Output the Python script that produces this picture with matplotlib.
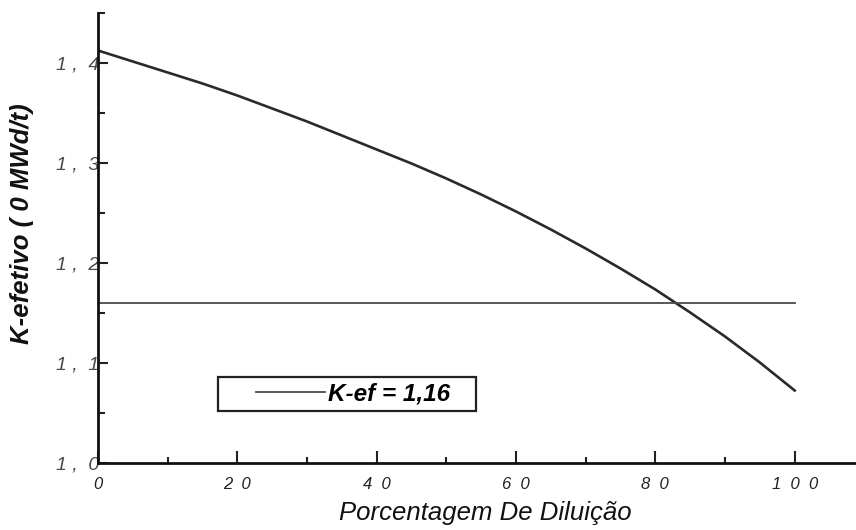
import matplotlib
matplotlib.use("Agg")
import matplotlib.pyplot as plt
from matplotlib.ticker import MultipleLocator
from matplotlib.legend_handler import HandlerLine2D

plt.rcParams['font.family'] = ['Liberation Sans', 'DejaVu Sans']

# Dilution percentage and effective multiplication factor
diluicao = [0, 5, 10, 15, 20, 25, 30, 35, 40, 45, 50,
            55, 60, 65, 70, 75, 80, 85, 90, 95, 100]
k_efetivo = [1.412, 1.401, 1.390, 1.379, 1.367, 1.354, 1.341, 1.327, 1.313, 1.299, 1.284,
             1.268, 1.251, 1.233, 1.214, 1.194, 1.173, 1.150, 1.126, 1.100, 1.072]

# Reference criticality level
k_ref = 1.16
k_ref_label = "K-ef = 1,16"

x_ticks = [0, 20, 40, 60, 80, 100]
x_tick_labels = ["0", "2  0", "4  0", "6  0", "8  0", "1  0  0"]
y_ticks = [1.0, 1.1, 1.2, 1.3, 1.4]
y_tick_labels = ["1 ,  0", "1 ,  1", "1 ,  2", "1 ,  3", "1 ,  4"]

fig = plt.figure(figsize=(8.56, 5.30), dpi=100)
ax = fig.add_axes([98 / 856, 1 - 462.5 / 530, 1 - 98 / 856, 450 / 530])

ax.plot(diluicao, k_efetivo, color='#2a2a2a', lw=1.9, solid_joinstyle='round')
ref_line, = ax.plot([diluicao[0], diluicao[-1]], [k_ref, k_ref], color='#4a4a4a', lw=1.3,
                    label=k_ref_label)

ax.set_xlim(0, 108.8)
ax.set_ylim(1.0, 1.45)

for side in ('top', 'right'):
    ax.spines[side].set_visible(False)
for side in ('left', 'bottom'):
    ax.spines[side].set_linewidth(2.0)
    ax.spines[side].set_color('#111111')

ax.set_xticks(x_ticks, x_tick_labels)
ax.set_yticks(y_ticks, y_tick_labels)
ax.xaxis.set_minor_locator(MultipleLocator(10))
ax.yaxis.set_minor_locator(MultipleLocator(0.05))

ax.tick_params(axis='x', which='major', direction='in', length=8.5, width=1.5,
               color='#222222', pad=10.5, labelsize=12, labelcolor='#222222')
ax.tick_params(axis='x', which='minor', direction='in', length=4.5, width=1.5, color='#222222')
ax.tick_params(axis='y', which='major', direction='in', length=7, width=1.5,
               color='#222222', pad=-1, labelsize=14, labelcolor='#4a4a4a')
ax.tick_params(axis='y', which='minor', direction='in', length=5, width=1.5, color='#222222')
for lab in ax.get_xticklabels() + ax.get_yticklabels():
    lab.set_fontstyle('italic')

ax.set_xlabel("Porcentagem De Diluição", fontsize=18.5, fontstyle='italic', color='#111111')
ax.xaxis.set_label_coords(0.511, -0.085)
ax.set_ylabel("K-efetivo ( 0 MWd/t)", fontsize=18.5, fontstyle='italic', fontweight='bold',
              color='#111111')
ax.yaxis.set_label_coords(-0.085, 0.53)

leg = ax.legend(handles=[ref_line], loc='upper left',
                bbox_to_anchor=(218 / 856, 1 - 377 / 530), bbox_transform=fig.transFigure,
                borderaxespad=0, borderpad=0.22, handlelength=4.2, handletextpad=0.1,
                fancybox=False, framealpha=1, edgecolor='#222222',
                prop={'family': 'Liberation Sans', 'style': 'italic', 'weight': 'bold', 'size': 17.5},
                handler_map={ref_line: HandlerLine2D(xpad=1.35)})
leg.get_frame().set_linewidth(1.6)
for t in leg.get_texts():
    t.set_text(k_ref_label + "   ")

fig.savefig("out.png", dpi=100, facecolor='white')
